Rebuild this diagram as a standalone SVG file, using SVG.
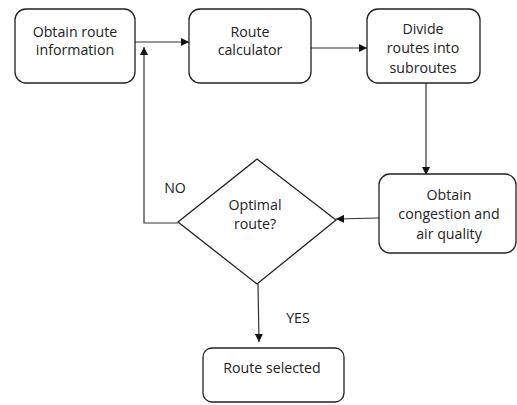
<svg xmlns="http://www.w3.org/2000/svg" width="517" height="405" viewBox="0 0 517 405">
<defs>
<marker id="ah" viewBox="0 0 10 10" refX="10" refY="5" markerWidth="8" markerHeight="8" markerUnits="userSpaceOnUse" orient="auto">
<path d="M0,0 L10,5 L0,10 z" fill="#111"/>
</marker>
<style>
.box{fill:#fff;stroke:#222;stroke-width:1.3}
.t{font-family:"Open Sans","Noto Sans",sans-serif;font-size:14.2px;fill:#222;text-anchor:middle}
.c{fill:none;stroke:#333;stroke-width:1.2}
</style>
</defs>
<rect width="517" height="405" fill="#fff"/>
<g id="connectors">
<path class="c" d="M135,42 L189,42" marker-end="url(#ah)"/>
<path class="c" d="M311,48 L367,48" marker-end="url(#ah)"/>
<path class="c" d="M426,83 L426,175" marker-end="url(#ah)"/>
<path class="c" d="M379,218 L336,219" marker-end="url(#ah)"/>
<path class="c" d="M178,223 L144,223 L144,47" marker-end="url(#ah)"/>
<path class="c" d="M258,284 L259,342" marker-end="url(#ah)"/>
<text class="t" x="175" y="193">NO</text>
<text class="t" x="298" y="323">YES</text>
</g>
<g id="obtain-route">
<rect class="box" x="15" y="9" width="120" height="74" rx="11"/>
<text class="t" x="75" y="37">Obtain route</text>
<text class="t" x="75" y="55">information</text>
</g>
<g id="route-calculator">
<rect class="box" x="189" y="9" width="122" height="74" rx="11"/>
<text class="t" x="250" y="37">Route</text>
<text class="t" x="250" y="55">calculator</text>
</g>
<g id="divide-routes">
<rect class="box" x="367" y="9" width="113" height="74" rx="11"/>
<text class="t" x="423" y="34">Divide</text>
<text class="t" x="423" y="53">routes into</text>
<text class="t" x="423" y="73">subroutes</text>
</g>
<g id="obtain-congestion">
<rect class="box" x="379" y="174" width="137" height="79" rx="11"/>
<text class="t" x="449" y="200">Obtain</text>
<text class="t" x="449" y="219">congestion and</text>
<text class="t" x="449" y="239">air quality</text>
</g>
<g id="optimal-route">
<path class="box" d="M257,159 L336,220 L257,284 L178,222 z"/>
<text class="t" x="255" y="210">Optimal</text>
<text class="t" x="255" y="229">route?</text>
</g>
<g id="route-selected">
<rect class="box" x="203" y="348" width="141" height="54" rx="9"/>
<text class="t" x="272" y="373">Route selected</text>
</g>
</svg>
